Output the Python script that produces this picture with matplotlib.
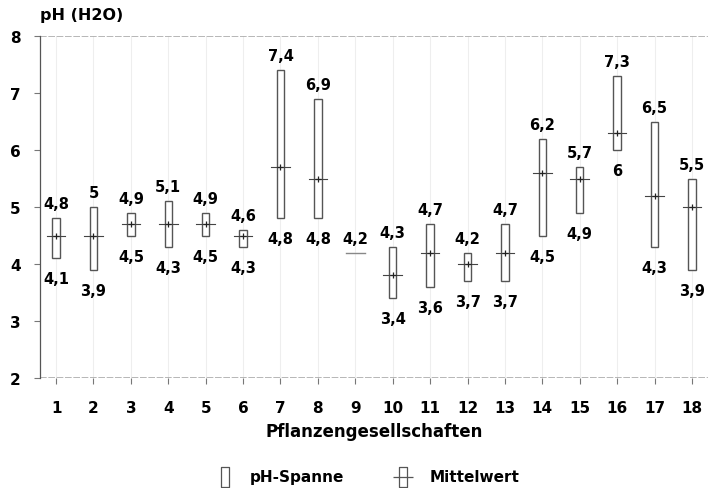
"""
pH ranges and means of plant communities
"""

import matplotlib
matplotlib.use("Agg")
import matplotlib.pyplot as plt
from matplotlib.lines import Line2D
from matplotlib.path import Path

plt.rcParams['font.family'] = ['DejaVu Sans']
plt.rcParams['font.weight'] = 'bold'

# data
groups = list(range(1, 19))
ph_min = [4.1, 3.9, 4.5, 4.3, 4.5, 4.3, 4.8, 4.8, 4.2, 3.4, 3.6, 3.7, 3.7, 4.5, 4.9, 6.0, 4.3, 3.9]
ph_max = [4.8, 5.0, 4.9, 5.1, 4.9, 4.6, 7.4, 6.9, 4.2, 4.3, 4.7, 4.2, 4.7, 6.2, 5.7, 7.3, 6.5, 5.5]
ph_mean = [4.5, 4.5, 4.7, 4.7, 4.7, 4.5, 5.7, 5.5, 4.2, 3.8, 4.2, 4.0, 4.2, 5.6, 5.5, 6.3, 5.2, 5.0]


def fmt(v):
    if float(v).is_integer():
        return str(int(v))
    return f"{v:.1f}".replace(".", ",")


fig = plt.figure(figsize=(7.08, 4.89), dpi=100)
ax = fig.add_axes([0.0565, 0.225, 0.9435, 0.699])

edge = '#555555'
box_w = 0.2
mean_w = 0.5

for g, lo, hi, m in zip(groups, ph_min, ph_max, ph_mean):
    if hi > lo:
        ax.add_patch(plt.Rectangle((g - box_w / 2, lo), box_w, hi - lo,
                                   facecolor='white', edgecolor=edge, lw=1.0, zorder=3))
        ax.plot([g - mean_w / 2, g + mean_w / 2], [m, m], color='#444444', lw=0.8, zorder=4)
        ax.plot([g], [m], marker='+', ms=5, mew=0.9, color='#222222', zorder=5)
        ax.annotate(fmt(lo), (g, lo), xytext=(0, -13), textcoords='offset pixels',
                    ha='center', va='top', fontsize=10.5, fontweight='bold')
    else:
        ax.plot([g - mean_w / 2, g + mean_w / 2], [m, m], color='#888888', lw=1.0, zorder=4)
    ax.annotate(fmt(hi), (g, hi), xytext=(0, 7), textcoords='offset pixels',
                ha='center', va='bottom', fontsize=10.5, fontweight='bold')

ax.set_xlim(0.57, 18.43)
ax.set_ylim(2, 8)
ax.set_xticks(groups)
ax.set_yticks(range(2, 9))
ax.tick_params(axis='both', color='#777777', length=4, width=0.8)
ax.tick_params(axis='x', pad=12, labelsize=11)
ax.tick_params(axis='y', pad=10, labelsize=11)
for lab in ax.get_xticklabels() + ax.get_yticklabels():
    lab.set_fontweight('bold')

for g in groups:
    ax.axvline(g, color='#eeeeee', lw=0.8, zorder=0)
ax.axhline(8, color='#aaaaaa', lw=1.2, ls=(0, (4, 1)), zorder=1)
ax.axhline(2, color='#aaaaaa', lw=1.2, ls=(0, (4, 1)), zorder=1)

for side in ['top', 'right', 'bottom']:
    ax.spines[side].set_visible(False)
ax.spines['left'].set_color('#555555')
ax.spines['left'].set_linewidth(0.9)

ax.set_xlabel('Pflanzengesellschaften', fontsize=12, fontweight='bold', labelpad=5)
fig.text(0.0565, 0.968, 'pH (H2O)', fontsize=11.5, fontweight='bold', ha='left', va='center')

# legend drawn by hand at figure coordinates
rect_path = Path([(-0.25, -0.6), (0.25, -0.6), (0.25, 0.6), (-0.25, 0.6), (-0.25, -0.6)],
                 [Path.MOVETO, Path.LINETO, Path.LINETO, Path.LINETO, Path.CLOSEPOLY])
mean_path = Path([(-0.25, -0.6), (0.25, -0.6), (0.25, 0.6), (-0.25, 0.6), (-0.25, -0.6),
                  (-0.6, 0), (0.6, 0)],
                 [Path.MOVETO, Path.LINETO, Path.LINETO, Path.LINETO, Path.CLOSEPOLY,
                  Path.MOVETO, Path.LINETO])
leg_y = 1 - 478 / 489
fig.add_artist(Line2D([225 / 708], [leg_y], ls='none', marker=rect_path, ms=14,
                      mfc='white', mec=edge, mew=0.9))
fig.text(250 / 708, leg_y, 'pH-Spanne', fontsize=11, fontweight='bold', ha='left', va='center')
fig.add_artist(Line2D([403 / 708], [leg_y], ls='none', marker=mean_path, ms=14,
                      mfc='none', mec=edge, mew=0.9))
fig.text(430 / 708, leg_y, 'Mittelwert', fontsize=11, fontweight='bold', ha='left', va='center')

fig.savefig('out.png', dpi=100)
